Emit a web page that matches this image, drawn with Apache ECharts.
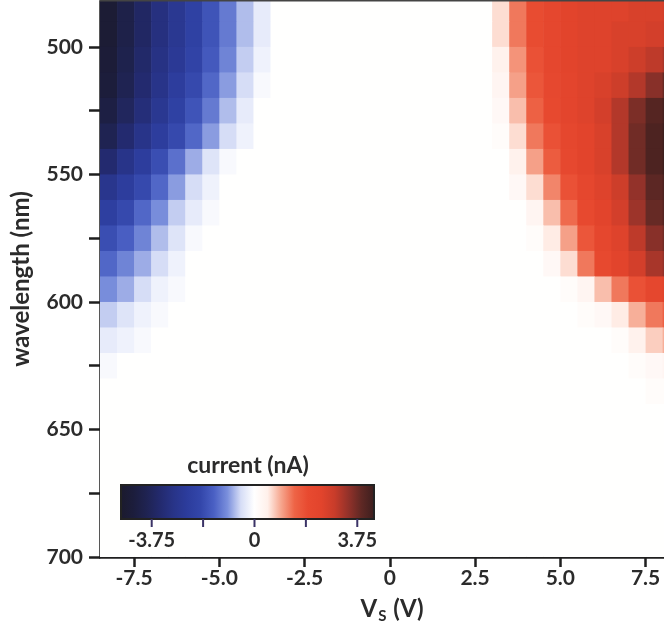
<!DOCTYPE html>
<html>
<head>
<meta charset="utf-8">
<title>photocurrent map</title>
<script src="https://cdn.jsdelivr.net/npm/echarts@6/dist/echarts.min.js"></script>
<style>
  html, body { margin: 0; padding: 0; background: #fff; }
  #chart { width: 664px; height: 641px; }
</style>
</head>
<body>
<div id="chart"></div>
<script>
// cell centres: source voltage (V), step 0.5
var voltages = [-8.25, -7.75, -7.25, -6.75, -6.25, -5.75, -5.25, -4.75, -4.25, -3.75, -3.25,
  -2.75, -2.25, -1.75, -1.25, -0.75, -0.25, 0.25, 0.75, 1.25, 1.75, 2.25,
  2.75, 3.25, 3.75, 4.25, 4.75, 5.25, 5.75, 6.25, 6.75, 7.25, 7.75, 8.25]
// cell centres: wavelength (nm), step 10
var wavelengths = [485, 495, 505, 515, 525, 535, 545, 555, 565, 575, 585,
  595, 605, 615, 625, 635, 645, 655, 665, 675, 685, 695]

// current (nA), one row per wavelength, one column per voltage
var current = [
  [-4.6, -4.1, -3.6, -3.1, -2.7, -2.2, -1.7, -1.2, -0.7, -0.3, 0, 0, 0, 0, 0, 0, 0, 0, 0, 0, 0, 0, 0, 0.6, 1.3, 1.9, 2.2, 2.4, 2.5, 2.5, 2.5, 2.6, 2.6, 2.7],
  [-4.6, -4.1, -3.6, -3.1, -2.7, -2.2, -1.7, -1.2, -0.7, -0.3, 0, 0, 0, 0, 0, 0, 0, 0, 0, 0, 0, 0, 0, 0.6, 1.3, 1.9, 2.2, 2.4, 2.5, 2.5, 2.6, 2.6, 2.7, 2.8],
  [-4.5, -4.0, -3.5, -3.0, -2.6, -2.1, -1.6, -1.1, -0.6, -0.2, 0, 0, 0, 0, 0, 0, 0, 0, 0, 0, 0, 0, 0, 0.4, 1.1, 1.8, 2.2, 2.4, 2.5, 2.5, 2.6, 2.8, 3.0, 3.2],
  [-4.4, -3.9, -3.4, -2.9, -2.4, -1.9, -1.4, -0.9, -0.5, -0.1, 0, 0, 0, 0, 0, 0, 0, 0, 0, 0, 0, 0, 0, 0.3, 1.0, 1.7, 2.1, 2.3, 2.5, 2.6, 2.8, 3.1, 3.5, 3.8],
  [-4.2, -3.7, -3.2, -2.7, -2.2, -1.7, -1.2, -0.7, -0.3, 0, 0, 0, 0, 0, 0, 0, 0, 0, 0, 0, 0, 0, 0, 0.2, 0.8, 1.5, 2.0, 2.3, 2.5, 2.7, 3.1, 3.6, 4.0, 4.2],
  [-3.9, -3.4, -2.9, -2.4, -1.9, -1.4, -0.9, -0.5, -0.2, 0, 0, 0, 0, 0, 0, 0, 0, 0, 0, 0, 0, 0, 0, 0.1, 0.6, 1.3, 1.8, 2.2, 2.4, 2.6, 3.1, 3.7, 4.1, 4.3],
  [-3.4, -2.9, -2.4, -1.8, -1.3, -0.8, -0.4, -0.1, 0, 0, 0, 0, 0, 0, 0, 0, 0, 0, 0, 0, 0, 0, 0, 0, 0.4, 1.0, 1.6, 2.1, 2.4, 2.6, 3.1, 3.7, 4.1, 4.3],
  [-2.8, -2.4, -1.9, -1.4, -0.9, -0.5, -0.2, 0, 0, 0, 0, 0, 0, 0, 0, 0, 0, 0, 0, 0, 0, 0, 0, 0, 0.2, 0.6, 1.2, 1.8, 2.2, 2.5, 2.8, 3.4, 3.9, 4.1],
  [-2.3, -1.9, -1.4, -1.0, -0.6, -0.3, -0.1, 0, 0, 0, 0, 0, 0, 0, 0, 0, 0, 0, 0, 0, 0, 0, 0, 0, 0, 0.3, 0.8, 1.4, 2.0, 2.4, 2.7, 3.3, 3.8, 4.0],
  [-1.8, -1.5, -1.1, -0.7, -0.4, -0.1, 0, 0, 0, 0, 0, 0, 0, 0, 0, 0, 0, 0, 0, 0, 0, 0, 0, 0, 0, 0.1, 0.5, 1.0, 1.7, 2.2, 2.5, 3.0, 3.5, 3.7],
  [-1.4, -1.1, -0.8, -0.5, -0.2, 0, 0, 0, 0, 0, 0, 0, 0, 0, 0, 0, 0, 0, 0, 0, 0, 0, 0, 0, 0, 0, 0.2, 0.6, 1.3, 2.0, 2.4, 2.7, 3.2, 3.4],
  [-1.0, -0.8, -0.5, -0.2, -0.1, 0, 0, 0, 0, 0, 0, 0, 0, 0, 0, 0, 0, 0, 0, 0, 0, 0, 0, 0, 0, 0, 0, 0.1, 0.3, 0.8, 1.3, 1.8, 2.2, 2.4],
  [-0.6, -0.4, -0.2, -0.1, 0, 0, 0, 0, 0, 0, 0, 0, 0, 0, 0, 0, 0, 0, 0, 0, 0, 0, 0, 0, 0, 0, 0, 0, 0.1, 0.2, 0.5, 0.9, 1.3, 1.5],
  [-0.3, -0.2, -0.1, 0, 0, 0, 0, 0, 0, 0, 0, 0, 0, 0, 0, 0, 0, 0, 0, 0, 0, 0, 0, 0, 0, 0, 0, 0, 0, 0, 0.1, 0.4, 0.7, 0.9],
  [-0.1, 0, 0, 0, 0, 0, 0, 0, 0, 0, 0, 0, 0, 0, 0, 0, 0, 0, 0, 0, 0, 0, 0, 0, 0, 0, 0, 0, 0, 0, 0, 0.1, 0.2, 0.3],
  [0, 0, 0, 0, 0, 0, 0, 0, 0, 0, 0, 0, 0, 0, 0, 0, 0, 0, 0, 0, 0, 0, 0, 0, 0, 0, 0, 0, 0, 0, 0, 0, 0.1, 0.1],
  [0, 0, 0, 0, 0, 0, 0, 0, 0, 0, 0, 0, 0, 0, 0, 0, 0, 0, 0, 0, 0, 0, 0, 0, 0, 0, 0, 0, 0, 0, 0, 0, 0, 0],
  [0, 0, 0, 0, 0, 0, 0, 0, 0, 0, 0, 0, 0, 0, 0, 0, 0, 0, 0, 0, 0, 0, 0, 0, 0, 0, 0, 0, 0, 0, 0, 0, 0, 0],
  [0, 0, 0, 0, 0, 0, 0, 0, 0, 0, 0, 0, 0, 0, 0, 0, 0, 0, 0, 0, 0, 0, 0, 0, 0, 0, 0, 0, 0, 0, 0, 0, 0, 0],
  [0, 0, 0, 0, 0, 0, 0, 0, 0, 0, 0, 0, 0, 0, 0, 0, 0, 0, 0, 0, 0, 0, 0, 0, 0, 0, 0, 0, 0, 0, 0, 0, 0, 0],
  [0, 0, 0, 0, 0, 0, 0, 0, 0, 0, 0, 0, 0, 0, 0, 0, 0, 0, 0, 0, 0, 0, 0, 0, 0, 0, 0, 0, 0, 0, 0, 0, 0, 0],
  [0, 0, 0, 0, 0, 0, 0, 0, 0, 0, 0, 0, 0, 0, 0, 0, 0, 0, 0, 0, 0, 0, 0, 0, 0, 0, 0, 0, 0, 0, 0, 0, 0, 0]
]

var xTicks = [-7.5, -5, -2.5, 0, 2.5, 5, 7.5]
var yTicks = [500, 525, 550, 575, 600, 625, 650, 675, 700]
var yLabels = [500, 550, 600, 650, 700]
var barTicks = [-3.75, -1.875, 0, 1.875, 3.75]
var barLabels = [-3.75, 0, 3.75]

// colour scale, 20 evenly spaced stops from colorMin to colorMax (white lands on 0)
var colorMin = -4.87
var colorMax = 4.36
var palette = ['#1b1a2c', '#1c1d3c', '#1f2352', '#232a6e', '#283488', '#2c3c9c', '#3346aa',
  '#4a60c4', '#7a8fdc', '#d6ddf6', '#ffffff', '#fff0ea', '#f6a68e', '#ee6446', '#e84a30',
  '#e2442c', '#c83c2a', '#94322a', '#5e2824', '#3a1e1e']

var FONT = 'Lato'
var TXT = '#2b2b2b'

var cells = []
wavelengths.forEach(function(w, i) {
  voltages.forEach(function(v, j) {
    cells.push([v, w, current[i][j]])
  })
})

// colorbar (legend) drawn inside the plot
function colorBar() {
  var bx = 121, by = 485, bw = 253, bh = 34
  var pos = function(v) { return bx + (v - colorMin) / (colorMax - colorMin) * bw }
  var stops = palette.map(function(c, i) {
    return { offset: i / (palette.length - 1), color: c }
  })
  var els = [{
    type: 'rect',
    shape: { x: bx, y: by, width: bw, height: bh },
    style: {
      fill: new echarts.graphic.LinearGradient(0, 0, 1, 0, stops),
      stroke: '#222', lineWidth: 2
    },
    z: 10
  }, {
    type: 'text',
    x: 248, y: 466,
    style: { text: 'current (nA)', font: 'bold 23px ' + FONT, fill: TXT, align: 'center', verticalAlign: 'middle' },
    z: 10
  }, {
    // top frame line
    type: 'line',
    shape: { x1: 100, y1: 0.75, x2: 664, y2: 0.75 },
    style: { stroke: '#444', lineWidth: 1.5 },
    z: 10
  }]
  barTicks.forEach(function(t) {
    els.push({
      type: 'line',
      shape: { x1: pos(t), y1: by + bh, x2: pos(t), y2: by + bh + 8 },
      style: { stroke: '#3b3366', lineWidth: 2 },
      z: 10
    })
  })
  barLabels.forEach(function(t) {
    els.push({
      type: 'text',
      x: pos(t), y: 541,
      style: { text: String(t), font: 'bold 20px ' + FONT, fill: TXT, align: 'center', verticalAlign: 'middle' },
      z: 10
    })
  })
  return els
}

var chart = echarts.init(document.getElementById('chart'))
var option = {
  backgroundColor: '#fff',
  animation: false,
  grid: {
    left: 100, right: 0, top: 1, bottom: 84
  },
  xAxis: {
    type: 'value',
    min: -8.5, max: 8.04,
    name: '{v|V}{s|S}{v| (V)}',
    nameLocation: 'middle',
    nameGap: 38,
    nameTextStyle: {
      padding: [0, 0, 0, 20],
      rich: {
        v: { fontFamily: FONT, fontWeight: 'bold', fontSize: 24, color: TXT, lineHeight: 26 },
        s: { fontFamily: FONT, fontWeight: 'bold', fontSize: 15, color: TXT, verticalAlign: 'bottom', padding: [14, 1, 0, 1] }
      }
    },
    splitLine: { show: false },
    axisLine: { onZero: false, lineStyle: { color: '#1f1f1f', width: 2.5 } },
    axisTick: { customValues: xTicks, length: 10, lineStyle: { color: '#1f1f1f', width: 2.5 } },
    axisLabel: {
      customValues: xTicks,
      margin: 11,
      fontFamily: FONT, fontWeight: 'bold', fontSize: 21, color: TXT,
      formatter: function(v) { return v === 0 ? '0' : v.toFixed(1) }
    }
  },
  yAxis: {
    type: 'value',
    min: 482, max: 700,
    inverse: true,
    name: 'wavelength (nm)',
    nameLocation: 'middle',
    nameGap: 67,
    nameTextStyle: { fontFamily: FONT, fontWeight: 'bold', fontSize: 24, color: TXT },
    splitLine: { show: false },
    axisLine: { onZero: false, lineStyle: { color: '#1f1f1f', width: 2.5 } },
    axisTick: { customValues: yTicks, length: 11, lineStyle: { color: '#1f1f1f', width: 2.5 } },
    axisLabel: {
      customValues: yLabels,
      margin: 17,
      fontFamily: FONT, fontWeight: 'bold', fontSize: 21, color: TXT
    }
  },
  visualMap: {
    show: false,
    type: 'continuous',
    min: colorMin, max: colorMax,
    dimension: 2,
    seriesIndex: 0,
    inRange: { color: palette }
  },
  series: [{
    type: 'custom',
    clip: true,
    data: cells,
    renderItem: function(params, api) {
      var v = api.value(0)
      var w = api.value(1)
      var p0 = api.coord([v - 0.25, w - 5])
      var p1 = api.coord([v + 0.25, w + 5])
      return {
        type: 'rect',
        shape: {
          x: Math.min(p0[0], p1[0]),
          y: Math.min(p0[1], p1[1]),
          width: Math.abs(p1[0] - p0[0]) + 0.6,
          height: Math.abs(p1[1] - p0[1]) + 0.6
        },
        style: { fill: api.visual('color') }
      }
    }
  }],
  graphic: colorBar()
}
chart.setOption(option)
</script>
</body>
</html>
